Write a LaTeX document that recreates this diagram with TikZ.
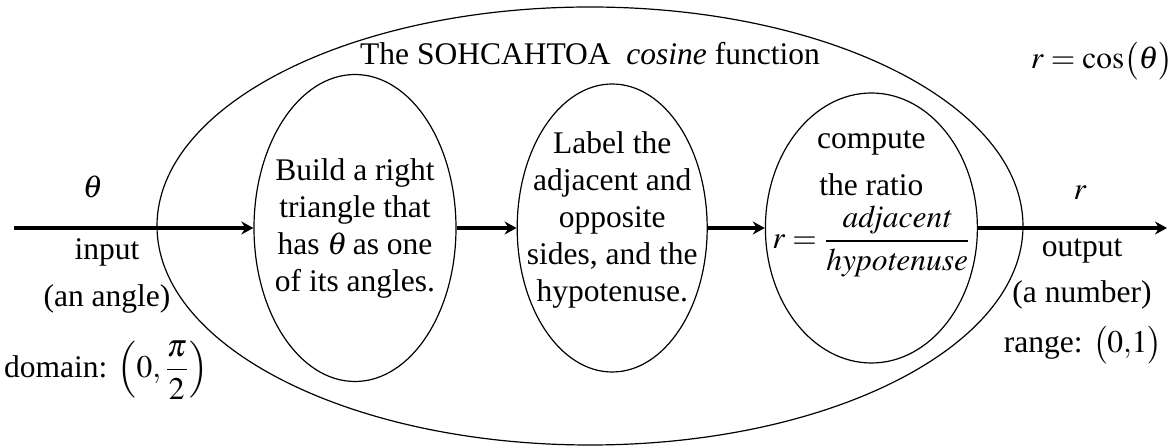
\documentclass[tikz,border=0pt]{standalone}
\usepackage{amsmath}
\usepackage{mathptmx}
\usepackage[no-math]{fontspec}
\setmainfont{Liberation Serif}
\usepackage{tikz}
\usetikzlibrary{arrows.meta,positioning,shapes.geometric}
\tikzset{
  funcbox/.style={draw=black, line width=0.6pt, ellipse, inner sep=0pt,
    minimum width=433pt, minimum height=219pt},
  stage/.style={draw=black, line width=0.6pt, ellipse, inner sep=0pt},
  stagetext/.style={align=center, inner sep=0pt},
  lbl/.style={align=center, inner sep=0pt},
  arr/.style={-{Stealth[length=6pt,width=6.5pt]}, line width=2pt}
}

\begin{document}
\begin{tikzpicture}[x=0.5pt, y=-0.5pt, font=\fontsize{15.75}{18.5}\selectfont,
    node distance=30pt]
  \useasboundingbox (0,0) rectangle (1175,448);

  % the function and its three steps
  \node[funcbox] (fn) at (590,226) {};
  \node[stage, minimum width=101pt, minimum height=153.5pt] (e1) at (355,228) {};
  \node[stage, right=30pt of e1, minimum width=95pt, minimum height=144pt] (e2) {};
  \node[stage, right=28.5pt of e2, minimum width=106pt, minimum height=135pt] (e3) {};

  \node[stagetext] (t1) at (e1) {Build a right\\triangle that\\has $\theta$\,as one\\of its angles.};
  \node[stagetext] (t2) at ([yshift=4pt]e2.center) {Label the\\adjacent and\\opposite\\sides, and the\\hypotenuse.};
  \node[stagetext] (t3) at ([yshift=12pt]e3.center)
    {compute\\[5pt]the ratio\\[4pt]$r=\dfrac{\mathit{adjacent}}{\mathit{hypotenuse}}$};

  \node[lbl, anchor=base] (title) at (590,65) {The SOHCAHTOA \ \textit{cosine} function};
  \node[lbl, anchor=base] (rule) at (1102,69) {$r=\cos\bigl(\theta\bigr)$};

  % input side
  \coordinate (in) at (14,228);
  \node[lbl, anchor=base] (theta) at (93,198) {$\theta$};
  \node[lbl, anchor=base] (input) at (107,260) {input};
  \node[lbl, anchor=base] (angle) at (107,307) {(an angle)};
  \node[lbl] (domain) at (106,370) {domain: $\left(0,\dfrac{\pi}{2}\right)$};

  % output side
  \coordinate (out) at (1167,228);
  \node[lbl, anchor=base] (r) at (1080,200) {$r$};
  \node[lbl, anchor=base] (output) at (1082,257) {output};
  \node[lbl, anchor=base] (number) at (1082,303) {(a number)};
  \node[lbl, anchor=base] (range) at (1083,353) {range: $\bigl(0{,}1\bigr)$};

  \draw[arr] (in) -- (e1);
  \draw[arr] (e1) -- (e2);
  \draw[arr] (e2) -- (e3);
  \draw[arr] (e3) -- (out);
\end{tikzpicture}
\end{document}
